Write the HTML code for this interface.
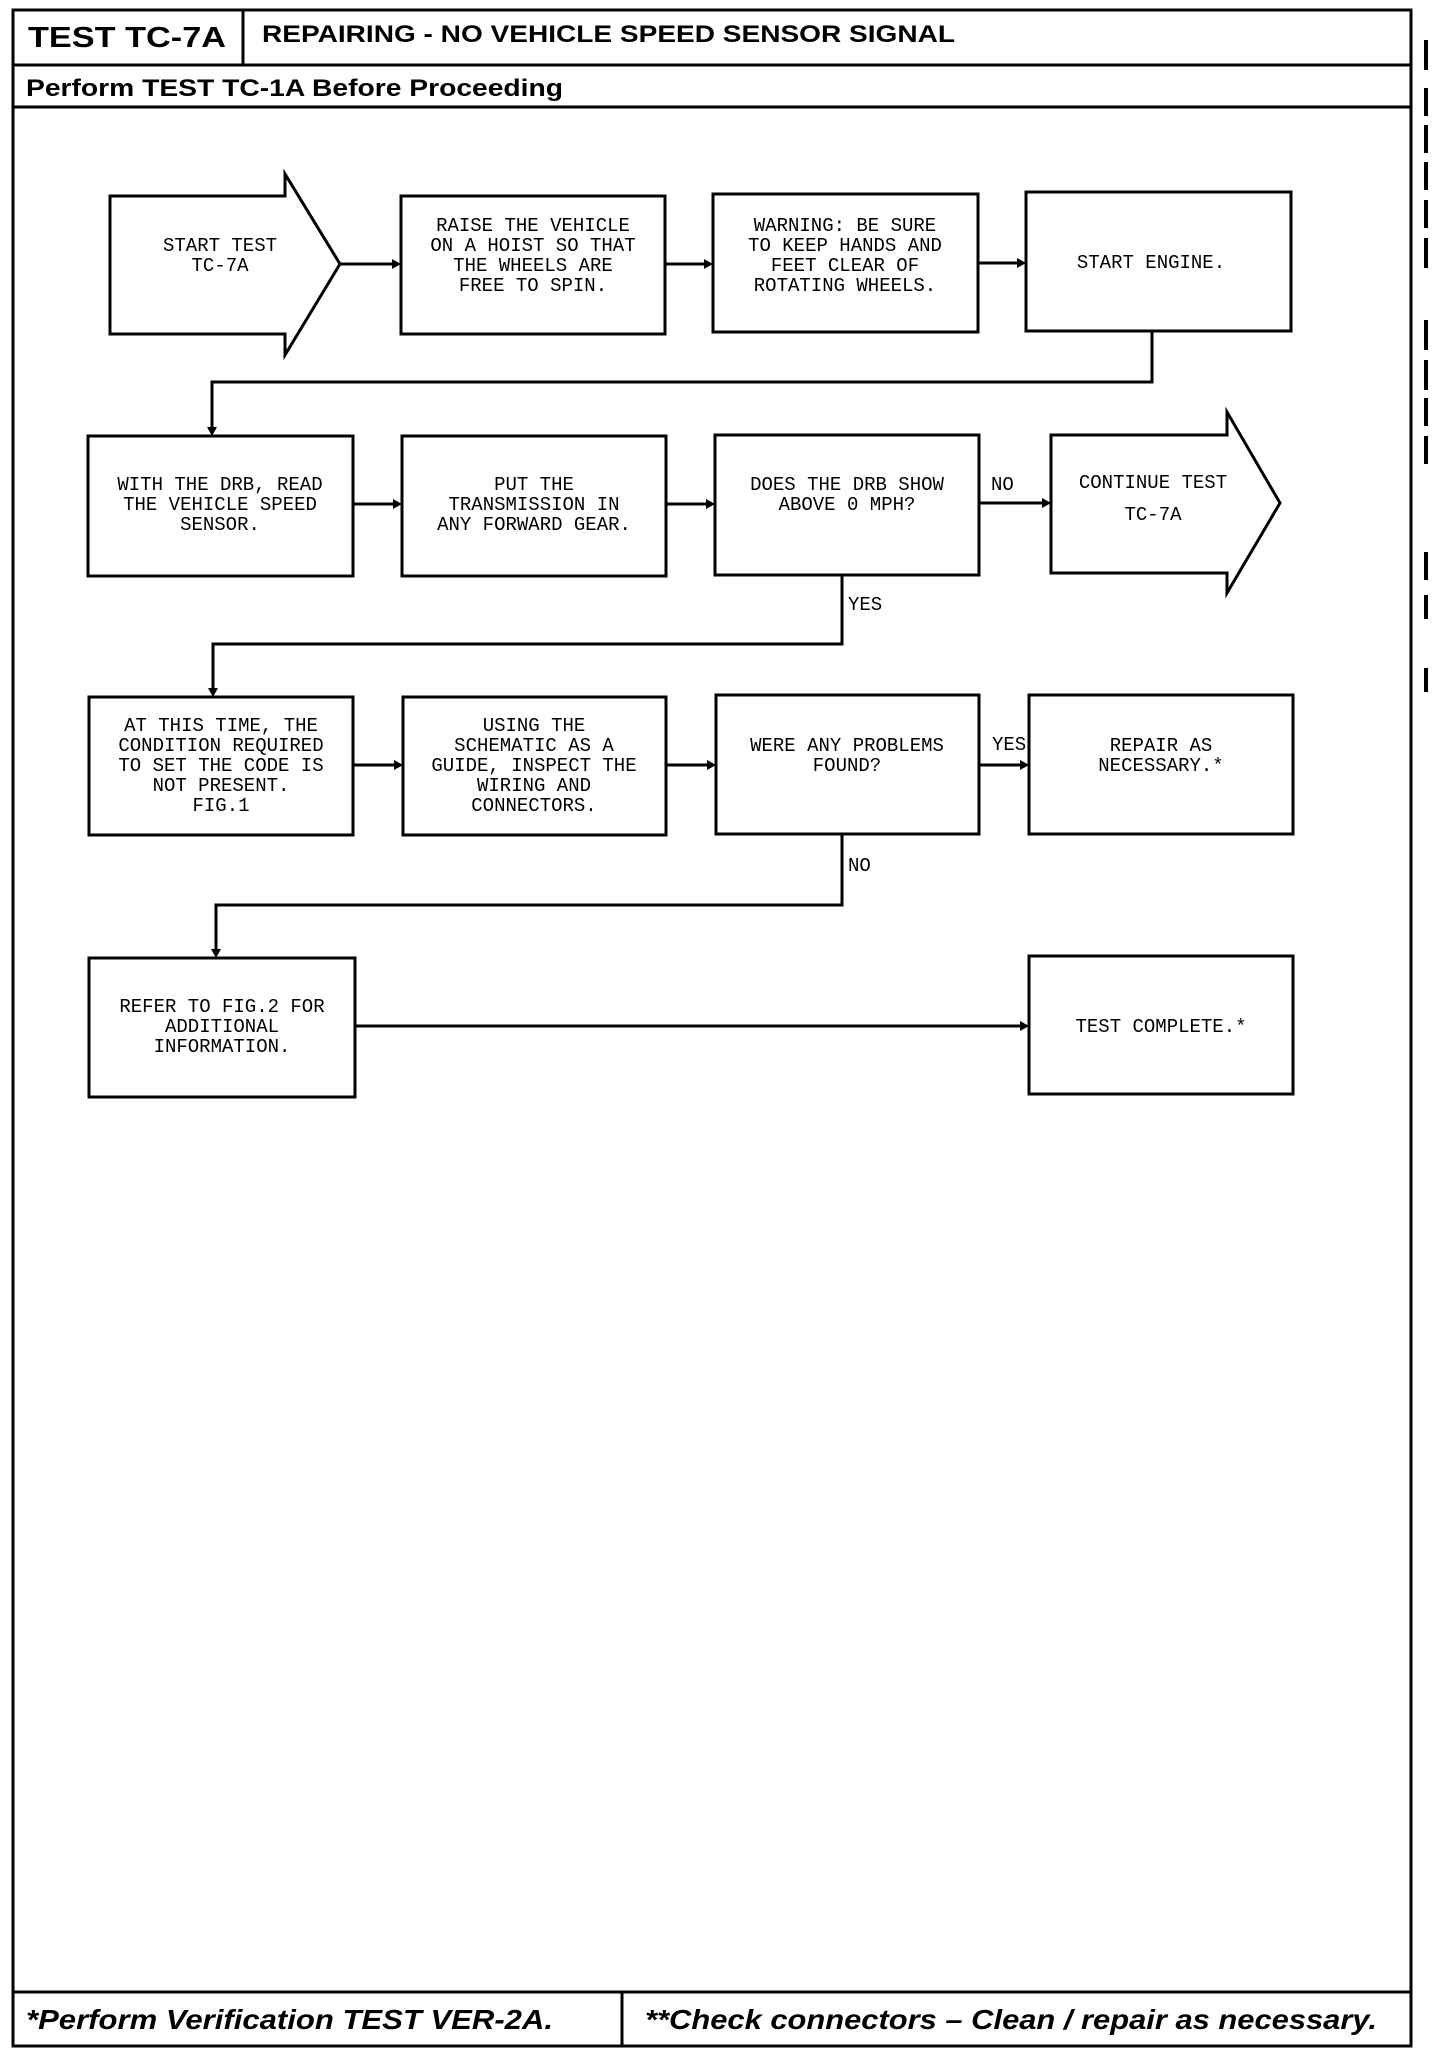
<!DOCTYPE html>
<html><head><meta charset="utf-8"><style>
html,body{margin:0;padding:0;background:#fff;}
svg{display:block;}
.m{font-family:"Liberation Mono",monospace;font-size:19px;fill:#000;}
.h{font-family:"Liberation Sans",sans-serif;font-weight:bold;fill:#000;}
</style></head><body>
<svg width="1440" height="2050" viewBox="0 0 1440 2050" xmlns="http://www.w3.org/2000/svg">
<g fill="none" stroke="#000" stroke-width="3">
<rect x="13" y="10" width="1398" height="2036"/>
<line x1="13" y1="65" x2="1411" y2="65"/>
<line x1="243" y1="10" x2="243" y2="65"/>
<line x1="13" y1="107" x2="1411" y2="107"/>
<line x1="13" y1="1992" x2="1411" y2="1992"/>
<line x1="622" y1="1992" x2="622" y2="2046"/>
</g>
<g fill="#000">
<rect x="1424" y="40" width="4" height="30"/><rect x="1424" y="88" width="4" height="28"/>
<rect x="1424" y="125" width="4" height="28"/><rect x="1424" y="162" width="4" height="28"/>
<rect x="1424" y="200" width="4" height="28"/><rect x="1424" y="238" width="4" height="30"/>
<rect x="1424" y="320" width="4" height="30"/><rect x="1424" y="360" width="4" height="30"/>
<rect x="1424" y="398" width="4" height="28"/><rect x="1424" y="436" width="4" height="28"/>
<rect x="1424" y="552" width="4" height="28"/><rect x="1424" y="595" width="4" height="24"/>
<rect x="1424" y="668" width="4" height="24"/>
</g>
<text class="h" x="28" y="47" font-size="29" textLength="198" lengthAdjust="spacingAndGlyphs">TEST TC-7A</text>
<text class="h" x="262" y="42" font-size="24" textLength="693" lengthAdjust="spacingAndGlyphs">REPAIRING - NO VEHICLE SPEED SENSOR SIGNAL</text>
<text class="h" x="26" y="96" font-size="24" textLength="537" lengthAdjust="spacingAndGlyphs">Perform TEST TC-1A Before Proceeding</text>
<text class="h" x="26" y="2029" font-size="28" font-style="italic" textLength="527" lengthAdjust="spacingAndGlyphs">*Perform Verification TEST VER-2A.</text>
<text class="h" x="645" y="2029" font-size="28" font-style="italic" textLength="732" lengthAdjust="spacingAndGlyphs">**Check connectors – Clean / repair as necessary.</text>

<g fill="none" stroke="#000" stroke-width="3">
<polygon points="110,196 285,196 285,174 340,264 285,355 285,334 110,334"/>
<rect x="401" y="196" width="264" height="138"/>
<rect x="713" y="194" width="265" height="138"/>
<rect x="1026" y="192" width="265" height="139"/>
<rect x="88" y="436" width="265" height="140"/>
<rect x="402" y="436" width="264" height="140"/>
<rect x="715" y="435" width="264" height="140"/>
<polygon points="1051,435 1227,435 1227,412 1280,503 1227,593 1227,573 1051,573"/>
<rect x="89" y="697" width="264" height="138"/>
<rect x="403" y="697" width="263" height="138"/>
<rect x="716" y="695" width="263" height="139"/>
<rect x="1029" y="695" width="264" height="139"/>
<rect x="89" y="958" width="266" height="139"/>
<rect x="1029" y="956" width="264" height="138"/>
</g>
<g fill="none" stroke="#000" stroke-width="3">
<line x1="340" y1="264" x2="396" y2="264"/>
<line x1="665" y1="264" x2="708" y2="264"/>
<line x1="978" y1="263" x2="1021" y2="263"/>
<polyline points="1152,331 1152,382 212,382 212,430"/>
<line x1="353" y1="504" x2="397" y2="504"/>
<line x1="666" y1="504" x2="710" y2="504"/>
<line x1="979" y1="503" x2="1046" y2="503"/>
<polyline points="842,575 842,644 213,644 213,691"/>
<line x1="353" y1="765" x2="398" y2="765"/>
<line x1="666" y1="765" x2="711" y2="765"/>
<line x1="979" y1="765" x2="1024" y2="765"/>
<polyline points="842,834 842,905 216,905 216,952"/>
<line x1="355" y1="1026" x2="1024" y2="1026"/>
</g>
<g fill="#000">
<polygon points="401,264 392,259 392,269"/><polygon points="713,264 704,259 704,269"/>
<polygon points="1026,263 1017,258 1017,268"/><polygon points="212,436 207,427 217,427"/>
<polygon points="402,504 393,499 393,509"/><polygon points="715,504 706,499 706,509"/>
<polygon points="1051,503 1042,498 1042,508"/><polygon points="213,697 208,688 218,688"/>
<polygon points="403,765 394,760 394,770"/><polygon points="716,765 707,760 707,770"/>
<polygon points="1029,765 1020,760 1020,770"/><polygon points="216,958 211,949 221,949"/>
<polygon points="1029,1026 1020,1021 1020,1031"/>
</g>
<g class="m" text-anchor="middle">
<text x="220" y="251">START TEST</text><text x="220" y="271">TC-7A</text>
<text x="533" y="231">RAISE THE VEHICLE</text><text x="533" y="251">ON A HOIST SO THAT</text><text x="533" y="271">THE WHEELS ARE</text><text x="533" y="291">FREE TO SPIN.</text>
<text x="845" y="231">WARNING: BE SURE</text><text x="845" y="251">TO KEEP HANDS AND</text><text x="845" y="271">FEET CLEAR OF</text><text x="845" y="291">ROTATING WHEELS.</text>
<text x="1151" y="268">START ENGINE.</text>
<text x="220" y="490">WITH THE DRB, READ</text><text x="220" y="510">THE VEHICLE SPEED</text><text x="220" y="530">SENSOR.</text>
<text x="534" y="490">PUT THE</text><text x="534" y="510">TRANSMISSION IN</text><text x="534" y="530">ANY FORWARD GEAR.</text>
<text x="847" y="490">DOES THE DRB SHOW</text><text x="847" y="510">ABOVE 0 MPH?</text>
<text x="1153" y="488">CONTINUE TEST</text><text x="1153" y="520">TC-7A</text>
<text x="221" y="731">AT THIS TIME, THE</text><text x="221" y="751">CONDITION REQUIRED</text><text x="221" y="771">TO SET THE CODE IS</text><text x="221" y="791">NOT PRESENT.</text><text x="221" y="811">FIG.1</text>
<text x="534" y="731">USING THE</text><text x="534" y="751">SCHEMATIC AS A</text><text x="534" y="771">GUIDE, INSPECT THE</text><text x="534" y="791">WIRING AND</text><text x="534" y="811">CONNECTORS.</text>
<text x="847" y="751">WERE ANY PROBLEMS</text><text x="847" y="771">FOUND?</text>
<text x="1161" y="751">REPAIR AS</text><text x="1161" y="771">NECESSARY.*</text>
<text x="222" y="1012">REFER TO FIG.2 FOR</text><text x="222" y="1032">ADDITIONAL</text><text x="222" y="1052">INFORMATION.</text>
<text x="1161" y="1032">TEST COMPLETE.*</text>
</g>
<g class="m">
<text x="991" y="490">NO</text><text x="848" y="610">YES</text>
<text x="992" y="750">YES</text><text x="848" y="871">NO</text>
</g>
</svg>
</body></html>
